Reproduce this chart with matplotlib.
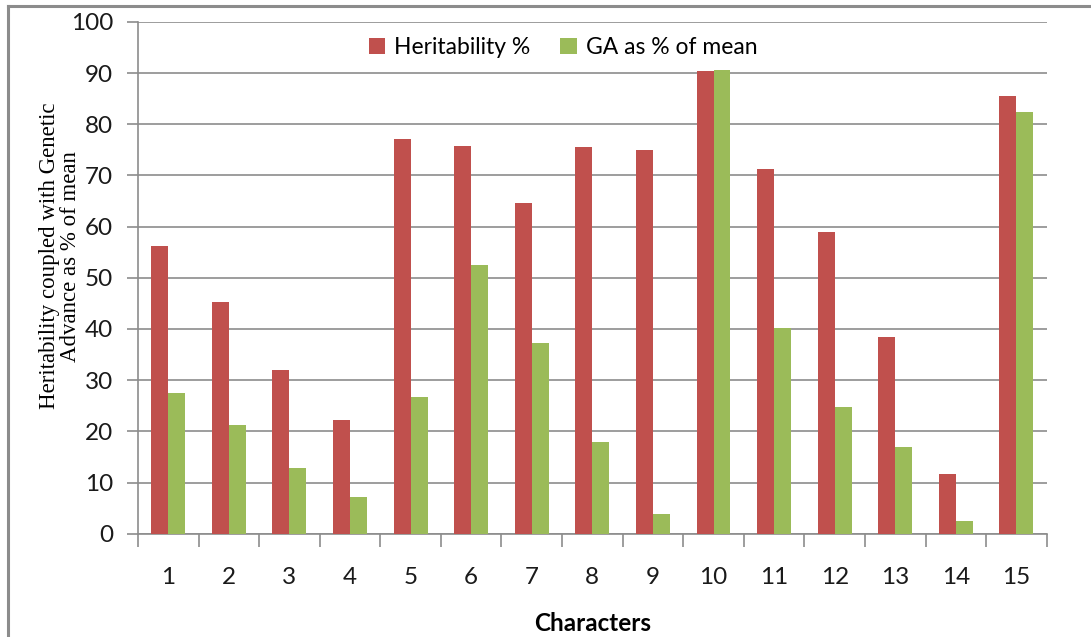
import numpy as np
import matplotlib.pyplot as plt
from matplotlib.lines import Line2D

# 数据
characters = [str(i) for i in range(1, 16)]
heritability = [56.2, 45.2, 31.9, 22.2, 77.1, 75.8, 64.6, 75.6, 75.0, 90.4, 71.3, 59.0, 38.4, 11.7, 85.5]
ga_mean = [27.4, 21.2, 12.9, 7.1, 26.7, 52.5, 37.2, 17.9, 3.85, 90.6, 40.1, 24.7, 16.9, 2.4, 82.5]

red = '#C0504D'
green = '#9BBB59'
grid_c = '#8C8C8C'

plt.rcParams['font.family'] = ['Lato', 'DejaVu Sans']

fig = plt.figure(figsize=(10.91, 6.37), dpi=100)
ax = fig.add_axes([0.1265, 0.1622, 0.8329, 0.8033])

x = np.arange(1, len(characters) + 1)
w = 0.28
ax.bar(x - w / 2, heritability, w, color=red, label='Heritability %', zorder=3)
ax.bar(x + w / 2, ga_mean, w, color=green, label='GA as % of mean', zorder=3)

ax.set_xlim(0.5, len(characters) + 0.5)
ax.set_ylim(0, 100)
ax.set_yticks(np.arange(0, 101, 10))
ax.yaxis.grid(True, color=grid_c, linewidth=1.2, zorder=0)
ax.set_axisbelow(True)

# x 轴刻度在类别边界，标签在中间
ax.set_xticks(np.arange(0.5, len(characters) + 1, 1))
ax.set_xticklabels([])
ax.set_xticks(x, minor=True)
ax.set_xticklabels(characters, minor=True)
ax.tick_params(axis='x', which='major', length=9, color=grid_c, width=1.2)
ax.tick_params(axis='x', which='minor', length=0, pad=24, labelsize=17.5, labelcolor='#1a1a1a')
ax.tick_params(axis='y', length=8, color=grid_c, width=1.2, pad=10, labelsize=17.5, labelcolor='#1a1a1a')

for s in ['top', 'right']:
    ax.spines[s].set_visible(False)
for s in ['left', 'bottom']:
    ax.spines[s].set_color(grid_c)
    ax.spines[s].set_linewidth(1.2)

ax.set_xlabel('Characters', fontsize=17.5, fontweight='bold', labelpad=17)
fig.text(0.055, 0.598, 'Heritability coupled with Genetic\nAdvance as % of mean',
         rotation=90, ha='center', va='center', fontsize=16.5,
         family='Liberation Serif', linespacing=1.0)

ax.legend(loc='upper center', bbox_to_anchor=(0.468, 1.01), ncol=2, frameon=False,
          fontsize=16.5, handlelength=0.7, handleheight=0.7, handletextpad=0.4,
          columnspacing=1.3)

# 外框（上边和左边）
fig.add_artist(Line2D([8 / 1091, 8 / 1091], [0, 1 - 6 / 637], color='#8C8C8C', linewidth=2.2))
fig.add_artist(Line2D([8 / 1091, 1], [1 - 6 / 637, 1 - 6 / 637], color='#8C8C8C', linewidth=2.2))

plt.savefig('out.png', dpi=100)
